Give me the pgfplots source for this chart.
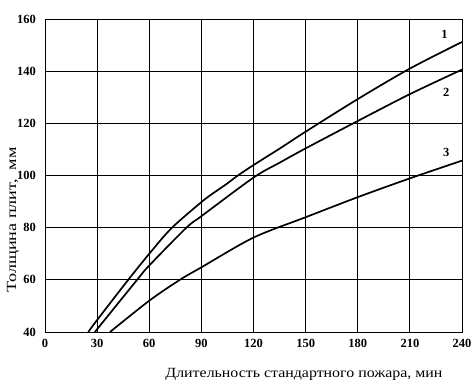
\documentclass[border=0pt]{standalone}
\usepackage{pgfplots}
\pgfplotsset{compat=1.18}
\usepackage{graphicx}
\usepackage{fontspec}
\setmainfont{Liberation Serif}
\begin{document}
\begin{tikzpicture}
\begin{axis}[
  scale only axis,
  width=417pt, height=313pt,
  xmin=0, xmax=240, ymin=40, ymax=160,
  xtick={0,30,60,90,120,150,180,210,240},
  xticklabels={0,30,60,90,120,150,180,210,240},
  ytick={40,60,80,100,120,140,160},
  yticklabels={40,60,80,100,120,140,160},
  major tick length=0pt,
  grid=major,
  grid style={black, line width=0.8pt},
  axis line style={black, line width=0.9pt},
  tick label style={font=\fontsize{12.5}{13}\selectfont\bfseries},
  xticklabel style={yshift=-4pt},
  yticklabel style={xshift=-5.5pt},
  xlabel={\resizebox{277pt}{\height}{Длительность стандартного пожара, мин}},
  x label style={at={(axis description cs:0.621,-0.134)}, anchor=center, font=\fontsize{14}{16}\selectfont},
  ylabel={\resizebox{145pt}{\height}{Толщина плит,\ \ мм}},
  y label style={at={(axis description cs:-0.077,0.358)}, anchor=center, rotate=0, font=\fontsize{14}{16}\selectfont},
  clip=true,
]
\addplot[black, line width=1.7pt, smooth] coordinates {(24.9,40) (30,44.6) (47.9,60) (60,70) (72.8,79.8) (90,89.8) (97,93.3) (104.4,96.7) (111,100) (120,104) (135,110.3) (150,116.8) (180,129.3) (210,141) (240,151.2)};
\addplot[black, line width=1.7pt, smooth] coordinates {(28.7,40) (53,60) (60,65.5) (81.4,80) (90,84.4) (120,99.2) (135,104.9) (150,110.4) (180,120.9) (210,131.2) (240,140.6)};
\addplot[black, line width=1.7pt, smooth] coordinates {(37.4,40) (60,52) (77.6,60) (90,64.8) (120,76.2) (150,84) (180,91.7) (210,98.9) (240,105.7)};
\node[font=\fontsize{12.5}{13}\selectfont\bfseries] at (axis cs:229.9,154.2) {1};
\node[font=\fontsize{12.5}{13}\selectfont\bfseries] at (axis cs:230.9,131.7) {2};
\node[font=\fontsize{12.5}{13}\selectfont\bfseries] at (axis cs:230.9,108.7) {3};
\coordinate (bl) at (rel axis cs:0,0);
\coordinate (tr) at (rel axis cs:1,1);
\end{axis}
\pgfresetboundingbox
\path ([shift={(-45pt,-57pt)}]bl) rectangle ([shift={(12pt,19pt)}]tr);
\end{tikzpicture}
\end{document}
